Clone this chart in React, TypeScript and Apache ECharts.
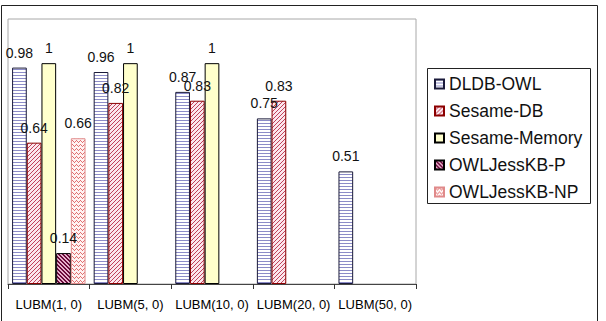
import React, { useEffect, useRef } from "react";
import * as echarts from "echarts";

const categories = ["LUBM(1, 0)", "LUBM(5, 0)", "LUBM(10, 0)", "LUBM(20, 0)", "LUBM(50, 0)"];
const seriesNames = ["DLDB-OWL", "Sesame-DB", "Sesame-Memory", "OWLJessKB-P", "OWLJessKB-NP"];
const dldbOwl = [0.98, 0.96, 0.87, 0.75, 0.51];
const sesameDb = [0.64, 0.82, 0.83, 0.83, null];
const sesameMemory = [1, 1, 1, null, null];
const owlJessKbP = [0.14, null, null, null, null];
const owlJessKbNp = [0.66, null, null, null, null];

const FONT = "Liberation Sans, Arial, sans-serif";

function makePattern(w: number, h: number, bg: string, fg: string, pixels: number[][]) {
  const c = document.createElement("canvas");
  c.width = w;
  c.height = h;
  const ctx = c.getContext("2d")!;
  ctx.fillStyle = bg;
  ctx.fillRect(0, 0, w, h);
  ctx.fillStyle = fg;
  pixels.forEach(([x, y]) => ctx.fillRect(x, y, 1, 1));
  return { image: c.toDataURL(), repeat: "repeat", imageWidth: w, imageHeight: h } as any;
}

export default function App() {
  const ref = useRef<HTMLDivElement>(null);
  useEffect(() => {
    if (!ref.current) return;
    const chart = echarts.init(ref.current, null, { renderer: "svg" });
    const pDldb = makePattern(4, 3, "#ffffff", "#8c8cc8", [[0, 0], [1, 0], [2, 0], [3, 0]]);
    const pDb = makePattern(4, 4, "#fbe6ec", "#c0405a", [[3, 0], [2, 1], [1, 2], [0, 3]]);
    const pP = makePattern(4, 4, "#e8b0cc", "#6a0a3a", [[0, 0], [1, 0], [1, 1], [2, 1], [2, 2], [3, 2], [3, 3], [0, 3]]);
    const pNp = makePattern(4, 4, "#fff2f2", "#e07070", [[0, 0], [1, 1], [3, 1], [2, 2]]);

    const styles = [
      { color: pDldb, borderColor: "#1a1a3a", borderWidth: 1 },
      { color: pDb, borderColor: "#8b0000", borderWidth: 1 },
      { color: "#ffffcc", borderColor: "#000000", borderWidth: 1 },
      { color: pP, borderColor: "#000000", borderWidth: 1 },
      { color: pNp, borderColor: "#e08a8a", borderWidth: 1 },
    ];
    const dataSets = [dldbOwl, sesameDb, sesameMemory, owlJessKbP, owlJessKbNp];

    chart.setOption({
      animation: false,
      backgroundColor: "#ffffff",
      textStyle: { fontFamily: FONT },
      grid: {
        left: 8,
        top: 19,
        width: 408,
        bottom: 37,
        show: true,
        borderColor: "#a8a8a8",
        borderWidth: 1,
        backgroundColor: "transparent",
      },
      legend: {
        orient: "vertical",
        left: 434,
        top: 75,
        itemWidth: 9,
        itemHeight: 9,
        itemGap: 9,
        icon: "rect",
        padding: 0,
        data: seriesNames,
        textStyle: { fontSize: 17.5, color: "#111", fontFamily: FONT },
      },
      xAxis: {
        type: "category",
        data: categories,
        axisLine: { lineStyle: { color: "#444", width: 1 } },
        axisTick: { show: true, length: 5, lineStyle: { color: "#333" } },
        axisLabel: { color: "#000", fontSize: 13, margin: 14, fontFamily: FONT, interval: 0 },
      },
      yAxis: {
        type: "value",
        min: 0,
        max: 1.2,
        show: false,
        splitLine: { show: false },
      },
      graphic: [
        {
          type: "rect",
          shape: { x: 1.5, y: 5.5, width: 596, height: 330 },
          style: { fill: "none", stroke: "#222", lineWidth: 1 },
          silent: true,
        },
        {
          type: "rect",
          shape: { x: 427.5, y: 68.5, width: 163, height: 135 },
          style: { fill: "none", stroke: "#222", lineWidth: 1 },
          silent: true,
        },
      ],
      series: seriesNames.map((name, i) => ({
        name,
        type: "bar",
        data: dataSets[i],
        barGap: "0%",
        barCategoryGap: "10%",
        itemStyle: styles[i],
        label: {
          show: true,
          position: "top",
          distance: 8,
          fontSize: 14,
          color: "#111",
          fontFamily: FONT,
        },
      })),
    });
    return () => chart.dispose();
  }, []);
  return (
    <div
      ref={ref}
      style={{ position: "fixed", left: 0, top: 0, width: 606, height: 321, background: "#fff" }}
    />
  );
}
